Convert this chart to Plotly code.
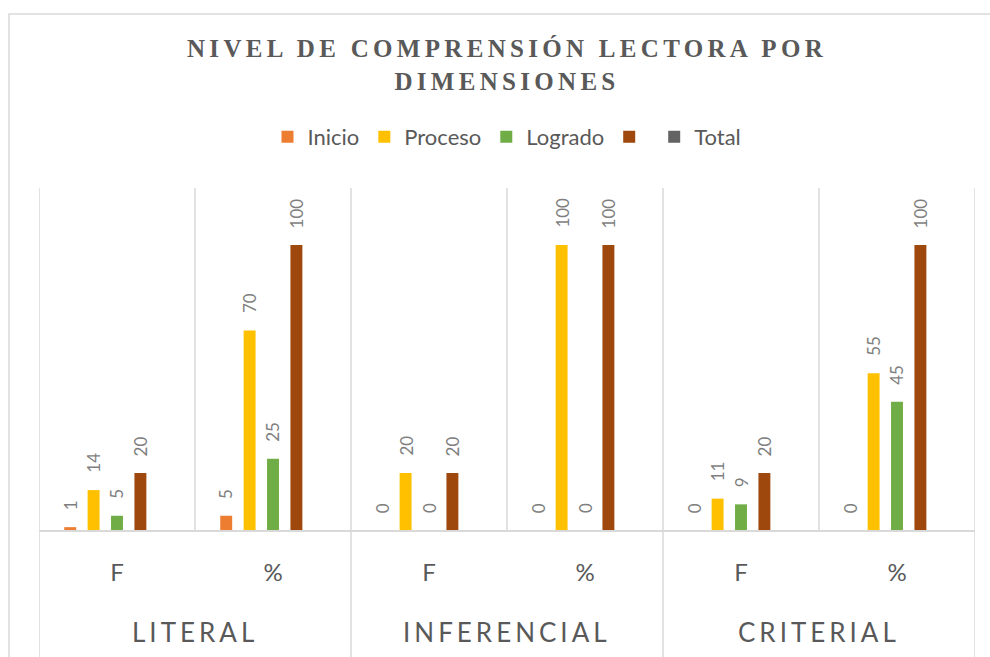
import plotly.graph_objects as go

# ---- data ----
groups = ["LITERAL", "INFERENCIAL", "CRITERIAL"]
sub_labels = ["F", "%", "F", "%", "F", "%"]
series_names = ["Inicio", "Proceso", "Logrado", "", "Total"]
inicio = [1, 5, 0, 0, 0, 0]
proceso = [14, 70, 20, 100, 11, 55]
logrado = [5, 25, 0, 0, 9, 45]
total_brown = [20, 100, 20, 100, 20, 100]
total_gray = [None, None, None, None, None, None]
colors = ["#ED7D31", "#FFC000", "#70AD47", "#9E480E", "#636363"]

series = [inicio, proceso, logrado, total_brown, total_gray]
x_pos = list(range(len(sub_labels)))

W, H = 990, 657
ML, MR, MT, MB = 39, 15, 188, 127
plot_h = H - MT - MB

BARGAP = 0.25
fig = go.Figure()
for name, vals, col in zip(series_names, series, colors):
    fig.add_trace(go.Bar(x=x_pos, y=vals, name=name, marker_color=col,
                         marker_line_width=0, hoverinfo="skip"))

# data labels (rotated) above bars
n = len(series)
slot = (1 - BARGAP) / n
annotations = []
for i, vals in enumerate(series):
    for j, v in enumerate(vals):
        if v is None:
            continue
        annotations.append(dict(
            x=j + (i - (n - 1) / 2) * slot, y=v, xref="x", yref="y",
            text=str(v), showarrow=False, textangle=-90,
            xanchor="center", yanchor="bottom", yshift=15,
            font=dict(family="Lato", size=17, color="#7F7F7F")))

# group labels
for g, name in enumerate(groups):
    annotations.append(dict(
        x=2 * g + 0.5, y=-(632 - (H - MB)) / plot_h, xref="x", yref="paper",
        text=name, showarrow=False, xanchor="center", yanchor="middle",
        font=dict(family="Lato", size=26, color="#595959")))

shapes = []
line_col = "#D9D9D9"
# vertical gridlines between categories
for k in range(len(sub_labels) + 1):
    shapes.append(dict(type="line", xref="x", yref="paper", x0=k - 0.5, x1=k - 0.5,
                       y0=0, y1=1, line=dict(color=line_col, width=1.5)))
# group dividers below axis
for k in range(0, len(sub_labels) + 1, 2):
    shapes.append(dict(type="line", xref="x", yref="paper", x0=k - 0.5, x1=k - 0.5,
                       y0=-(MB + 20) / plot_h, y1=0, line=dict(color=line_col, width=1.5)))
# outer chart border
shapes.append(dict(type="rect", xref="paper", yref="paper",
                   x0=(9 - ML) / (W - ML - MR), x1=(1005 - ML) / (W - ML - MR),
                   y0=-(MB + 30) / plot_h, y1=(H - MB - 14) / plot_h,
                   line=dict(color=line_col, width=1.5), fillcolor="rgba(0,0,0,0)",
                   layer="below"))

fig.update_layout(
    width=W, height=H,
    margin=dict(l=ML, r=MR, t=MT, b=MB),
    paper_bgcolor="white", plot_bgcolor="white",
    barmode="group", bargap=BARGAP, bargroupgap=0.49,
    title=dict(text="NIVEL DE COMPRENSIÓN LECTORA POR<br>DIMENSIONES",
               x=(ML + (W - ML - MR) / 2) / W, xanchor="center",
               y=1 - 57 / H, yanchor="top", yref="container",
               font=dict(family="Liberation Serif", size=25, color="#595959",
                         weight="bold")),
    legend=dict(orientation="h", x=0.5, xanchor="center",
                y=((H - MB) - 137) / plot_h, yanchor="middle",
                font=dict(family="Lato", size=22, color="#595959"),
                itemclick=False, itemdoubleclick=False),
    xaxis=dict(range=[-0.5, len(sub_labels) - 0.5], tickvals=x_pos, ticktext=sub_labels,
               showgrid=False, zeroline=False, showline=True, linecolor=line_col,
               linewidth=1.5, ticks="", ticklabelstandoff=20,
               tickfont=dict(family="Lato", size=24, color="#595959"), fixedrange=True),
    yaxis=dict(range=[0, 120], visible=False, fixedrange=True),
    annotations=annotations,
    shapes=shapes,
    showlegend=True,
)

post = """
var gd = document.getElementById('{plot_id}');
document.body.style.margin = '0';
gd.querySelectorAll('.gtitle').forEach(function(e){ e.style.letterSpacing = '4.3px'; });
var grp = ['LITERAL','INFERENCIAL','CRITERIAL'];
gd.querySelectorAll('.annotation-text').forEach(function(e){
  if (grp.indexOf(e.textContent) >= 0) { e.style.letterSpacing = '4px'; }
});
"""

fig.write_html("out.html", post_script=post, config={"displayModeBar": False})
